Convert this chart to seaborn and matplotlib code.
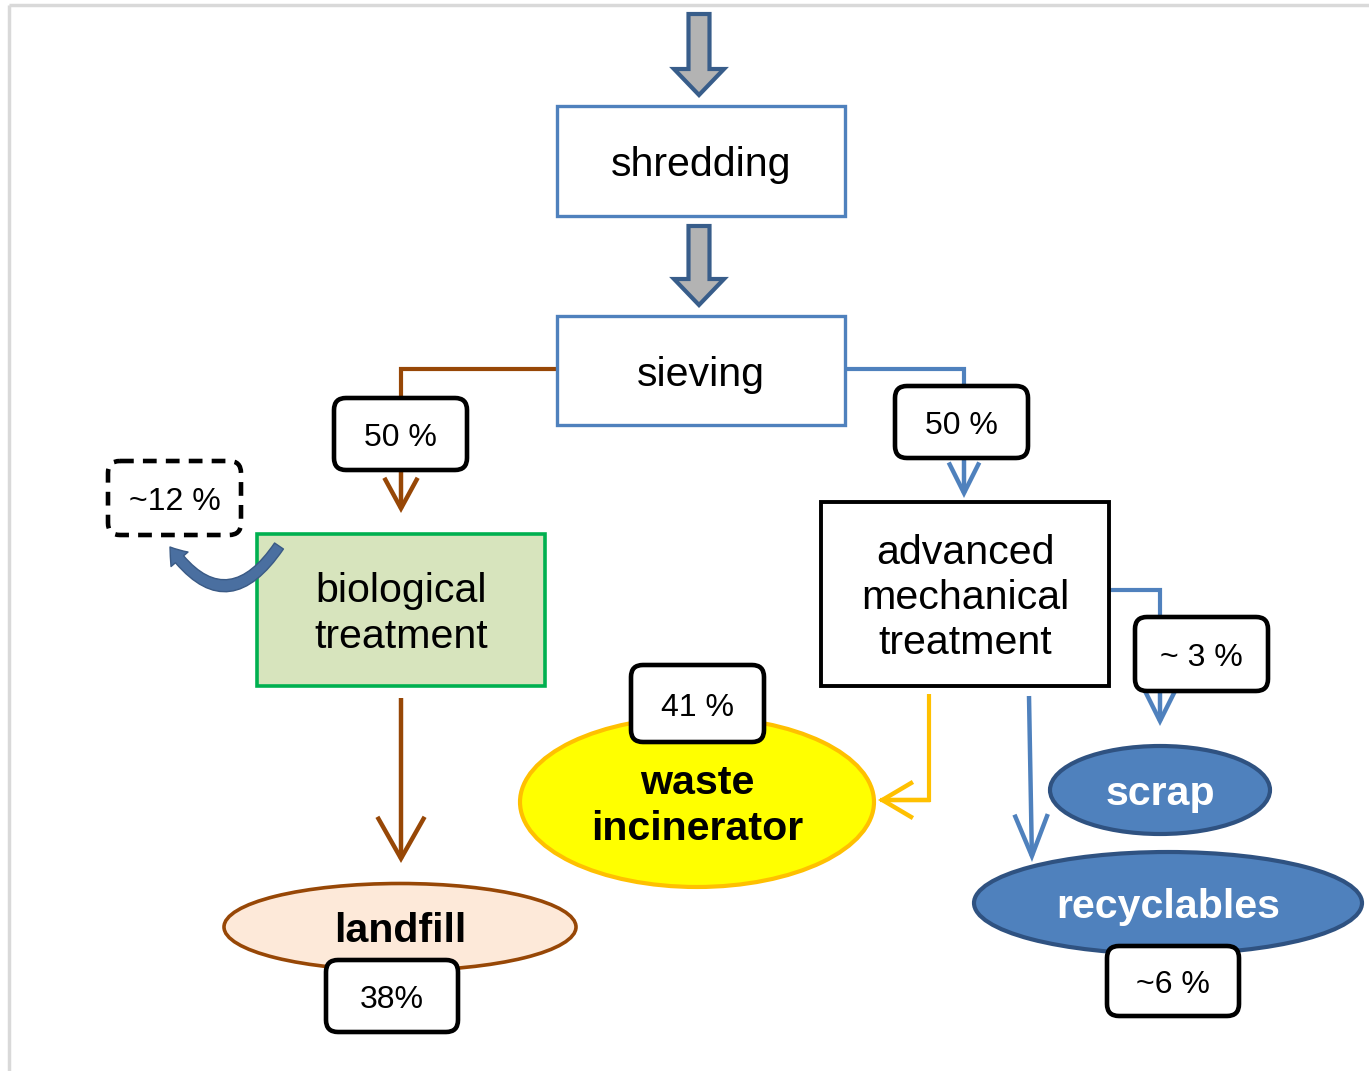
import matplotlib
matplotlib.use("Agg")
import matplotlib.pyplot as plt
import seaborn as sns
from matplotlib.patches import FancyBboxPatch, Rectangle, Ellipse, FancyArrowPatch, FancyArrow

sns.set_theme(style="white")
plt.rcParams['font.family'] = ['Liberation Sans', 'DejaVu Sans']

# ---- data ----
process_steps = ["shredding", "sieving", "biological\ntreatment", "advanced\nmechanical\ntreatment"]
outputs = ["landfill", "waste\nincinerator", "scrap", "recyclables"]
split_labels = ["50 %", "50 %"]
output_shares = ["38%", "41 %", "~ 3 %", "~6 %"]
recycle_label = "~12 %"

W, H = 1369, 1071
fig = plt.figure(figsize=(W / 100, H / 100), dpi=100)
ax = fig.add_axes([0, 0, 1, 1])
ax.set_xlim(0, W)
ax.set_ylim(H, 0)
ax.axis("off")

BLUE = "#4f81bd"
DBLUE = "#385d8a"
BROWN = "#974706"
YELLOW = "#ffc000"
FS = 29.6
FSP = 23
LS = 1.24
DY = 4

# page border
ax.plot([9, W], [5, 5], color="#d9d9d9", lw=2.5, solid_capstyle="butt")
ax.plot([9, 9], [5, H], color="#d9d9d9", lw=2.5, solid_capstyle="butt")


def block_arrow(x, y0, y1):
    a = FancyArrow(x, y0, 0, y1 - y0, width=21, head_width=50, head_length=26,
                   length_includes_head=True, facecolor="#b3b3b3", edgecolor=DBLUE,
                   lw=3, zorder=3)
    ax.add_patch(a)


def rect_box(x0, y0, x1, y1, text, ec, fc="white", lw=2.4):
    ax.add_patch(Rectangle((x0, y0), x1 - x0, y1 - y0, facecolor=fc, edgecolor=ec, lw=lw, zorder=4))
    ax.text((x0 + x1) / 2, (y0 + y1) / 2 + DY, text, ha="center", va="center", fontsize=FS,
            linespacing=LS, color="black", zorder=5)


def pct_box(x0, y0, x1, y1, text, ls="solid"):
    ax.add_patch(FancyBboxPatch((x0, y0), x1 - x0, y1 - y0, boxstyle="round,pad=0,rounding_size=12",
                                facecolor="white", edgecolor="black", lw=3.3, linestyle=ls, zorder=6))
    ax.text((x0 + x1) / 2, (y0 + y1) / 2 + 4, text, ha="center", va="center", fontsize=FSP,
            color="black", zorder=7)


def ellipse(cx, cy, w, h, text, fc, ec, tc, lw=2.6):
    ax.add_patch(Ellipse((cx, cy), w, h, facecolor=fc, edgecolor=ec, lw=lw, zorder=4))
    ax.text(cx, cy + DY, text, ha="center", va="center", fontsize=FS, fontweight="bold",
            linespacing=LS, color=tc, zorder=5)


def line(xs, ys, color):
    ax.plot(xs, ys, color=color, lw=3, zorder=2, solid_joinstyle="miter", solid_capstyle="butt")


def open_arrow(p0, p1, color, hl, hw):
    a = FancyArrowPatch(p0, p1, arrowstyle=f"->,head_length={hl},head_width={hw}",
                        mutation_scale=1, color=color, lw=3.2, zorder=2,
                        shrinkA=0, shrinkB=0, joinstyle="miter", capstyle="butt")
    ax.add_patch(a)


# block arrows
block_arrow(699, 14, 95)
block_arrow(699, 226, 305)

# boxes
rect_box(557, 106, 845, 216, process_steps[0], BLUE)
rect_box(557, 316, 845, 425, process_steps[1], BLUE)
rect_box(257, 534, 545, 686, process_steps[2], "#00b050", fc="#d7e4bd", lw=2.6)
rect_box(821, 502, 1109, 686, process_steps[3], "black", lw=2.8)

# connectors left (brown)
line([557, 401, 401], [369, 369, 400], BROWN)
open_arrow((401, 470), (401, 513), BROWN, 22, 12)
open_arrow((401, 698), (401, 863), BROWN, 30, 17)

# connectors right (blue)
line([845, 964, 964], [369, 369, 388], BLUE)
open_arrow((964, 458), (964, 498), BLUE, 22, 11)
line([1109, 1160, 1160], [590, 590, 620], BLUE)
open_arrow((1160, 690), (1160, 726), BLUE, 22, 11)
open_arrow((1029, 696), (1032, 862), BLUE, 30, 12)

# yellow connector
line([929, 929, 880], [694, 800, 800], YELLOW)
open_arrow((930, 800), (878, 800), YELLOW, 22, 13)

# outputs
ellipse(400, 927, 352, 87, outputs[0], "#fde9d9", BROWN, "black")
ellipse(697, 802, 354, 170, outputs[1], "#ffff00", YELLOW, "black", lw=3)
ellipse(1160, 790, 220, 88, outputs[2], BLUE, "#2f5281", "white", lw=3)
ellipse(1168, 903, 388, 102, outputs[3], BLUE, "#2f5281", "white", lw=3)

# percentage boxes
pct_box(334, 398, 467, 470, split_labels[0])
pct_box(895, 386, 1028, 458, split_labels[1])
pct_box(326, 960, 458, 1032, output_shares[0])
pct_box(631, 665, 764, 742, output_shares[1])
pct_box(1135, 617, 1268, 691, output_shares[2])
pct_box(1107, 946, 1239, 1016, output_shares[3])
pct_box(108, 461, 241, 535, recycle_label, ls=(0, (3, 2)))

# curved recycling arrow
ca = FancyArrowPatch((279, 546), (170, 547), connectionstyle="arc3,rad=-0.72",
                     arrowstyle="Simple,tail_width=0.55,head_width=1.15,head_length=0.8",
                     mutation_scale=14, facecolor="#4a6fa0", edgecolor="#3a5a85", lw=1,
                     shrinkA=0, shrinkB=0, zorder=8)
ax.add_patch(ca)

fig.savefig("out.png", dpi=100, facecolor="white")
